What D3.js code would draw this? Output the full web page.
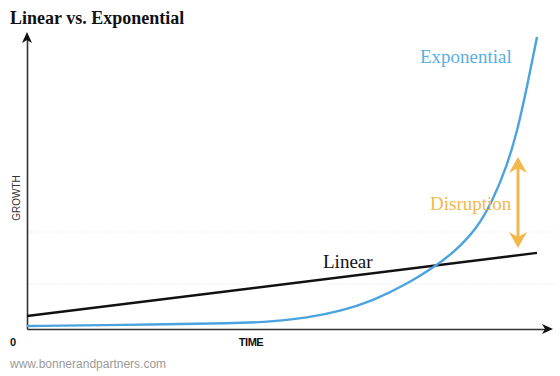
<!DOCTYPE html>
<html>
<head>
<meta charset="utf-8">
<script src="https://cdn.jsdelivr.net/npm/d3@7"></script>
<style>
  body { margin: 0; background: #fff; }
  svg { display: block; }
</style>
</head>
<body>
<div id="chart"></div>
<script>
// time on a 0..100 scale, growth on a 0..100 scale
const linearTime = [0, 100];
const linearGrowth = [4.4, 25.9];

const expTime = [0, 18.2, 41.8, 48.2, 54.9, 61.4, 67.8, 74.5, 80.4, 83.5, 88.2, 91.4, 94.1, 96.1, 98.0, 100];
const expGrowth = [1.0, 1.4, 1.9, 2.6, 3.8, 6.0, 9.6, 15.2, 21.8, 25.8, 34.0, 44.0, 55.5, 67.0, 82.0, 99.3];

const gridValues = [33, 15.3];

const W = 560, H = 376;
const svg = d3.select("#chart").append("svg")
  .attr("width", W).attr("height", H);

const x = d3.scaleLinear().domain([0, 100]).range([27, 537]);
const y = d3.scaleLinear().domain([0, 100]).range([329, 35]);

// faint dotted gridlines
svg.append("g")
  .selectAll("line")
  .data(gridValues)
  .join("line")
    .attr("x1", 28).attr("x2", 556)
    .attr("y1", d => y(d)).attr("y2", d => y(d))
    .attr("stroke", "#e4e4e4")
    .attr("stroke-dasharray", "1,2");

// axes (no ticks, just the lines)
const xAxis = svg.append("g")
  .attr("transform", `translate(0,${y(0)})`)
  .call(d3.axisBottom(d3.scaleLinear().range([27, 548])).ticks(0).tickSizeOuter(0));
xAxis.select(".domain").attr("stroke", "#333").attr("stroke-width", 1.6);

const yAxis = svg.append("g")
  .attr("transform", `translate(${x(0)},0)`)
  .call(d3.axisLeft(d3.scaleLinear().range([329, 38])).ticks(0).tickSizeOuter(0));
yAxis.select(".domain").attr("stroke", "#333").attr("stroke-width", 1.6);

// arrow heads
svg.append("path")
  .attr("d", `M${x(0)},32 L${x(0) - 5},43 L${x(0)},40 L${x(0) + 5},43 Z`)
  .attr("fill", "#111");
svg.append("path")
  .attr("d", `M553,${y(0)} L542,${y(0) - 5} L545,${y(0)} L542,${y(0) + 5} Z`)
  .attr("fill", "#111");

// lines
const line = d3.line()
  .x(d => x(d[0]))
  .y(d => y(d[1]))
  .curve(d3.curveBasis);

svg.append("path")
  .datum(d3.zip(linearTime, linearGrowth))
  .attr("d", line)
  .attr("fill", "none")
  .attr("stroke", "#111")
  .attr("stroke-width", 2.4);

svg.append("path")
  .datum(d3.zip(expTime, expGrowth))
  .attr("d", line)
  .attr("fill", "none")
  .attr("stroke", "#4aa3de")
  .attr("stroke-width", 2.4);

// disruption double arrow
const ax = 518, aTop = 157, aBot = 248;
svg.append("line")
  .attr("x1", ax).attr("x2", ax)
  .attr("y1", aTop + 10).attr("y2", aBot - 10)
  .attr("stroke", "#f2b84b").attr("stroke-width", 3);
svg.append("path")
  .attr("d", `M${ax},${aTop} L${ax - 9},${aTop + 16} L${ax},${aTop + 11} L${ax + 9},${aTop + 16} Z`)
  .attr("fill", "#f2b84b");
svg.append("path")
  .attr("d", `M${ax},${aBot} L${ax - 9},${aBot - 16} L${ax},${aBot - 11} L${ax + 9},${aBot - 16} Z`)
  .attr("fill", "#f2b84b");

// labels
const serif = "'Liberation Serif', 'DejaVu Serif', serif";
const sans = "'Liberation Sans', Arial, sans-serif";

svg.append("text")
  .attr("x", 10).attr("y", 24)
  .attr("font-family", serif).attr("font-weight", "bold")
  .attr("font-size", 18).attr("fill", "#111")
  .text("Linear vs. Exponential");

svg.append("text")
  .attr("x", 420).attr("y", 63)
  .attr("font-family", serif).attr("font-size", 19)
  .attr("fill", "#5aaee2")
  .text("Exponential");

svg.append("text")
  .attr("x", 323).attr("y", 268)
  .attr("font-family", serif).attr("font-size", 19)
  .attr("fill", "#111")
  .text("Linear");

svg.append("text")
  .attr("x", 430).attr("y", 210)
  .attr("font-family", serif).attr("font-size", 19)
  .attr("fill", "#f2b84b")
  .text("Disruption");

svg.append("text")
  .attr("transform", "translate(20,198) rotate(-90)")
  .attr("text-anchor", "middle")
  .attr("font-family", sans).attr("font-size", 10)
  .attr("fill", "#333")
  .text("GROWTH");

svg.append("text")
  .attr("x", 10).attr("y", 346)
  .attr("font-family", sans).attr("font-weight", "bold")
  .attr("font-size", 11).attr("fill", "#111")
  .text("0");

svg.append("text")
  .attr("x", 251).attr("y", 346)
  .attr("text-anchor", "middle")
  .attr("font-family", sans).attr("font-weight", "bold")
  .attr("font-size", 11).attr("letter-spacing", -0.5)
  .attr("fill", "#111")
  .text("TIME");

svg.append("text")
  .attr("x", 10).attr("y", 368)
  .attr("font-family", sans).attr("font-size", 12)
  .attr("fill", "#9a9a9a")
  .text("www.bonnerandpartners.com");
</script>
</body>
</html>
